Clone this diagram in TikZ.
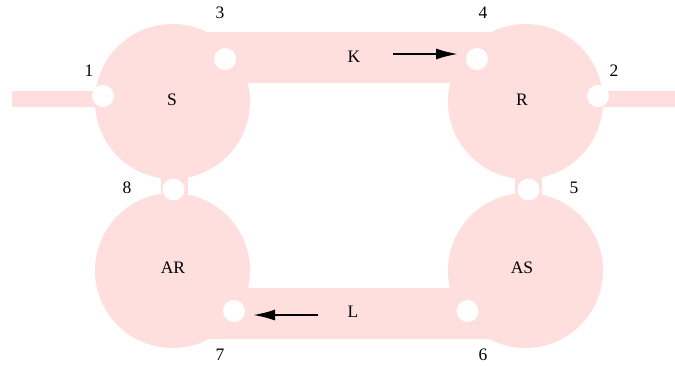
\documentclass[tikz,border=0pt]{standalone}
\usepackage{fontspec}
\setmainfont{Liberation Serif}
\usetikzlibrary{arrows.meta}
\definecolor{pinkfill}{HTML}{FFDEDE}
\begin{document}
\begin{tikzpicture}[x=1pt,y=-1pt,
  chamber/.style={circle,fill=pinkfill,minimum size=155pt,inner sep=0pt},
  hole/.style={circle,fill=white,minimum size=22pt,inner sep=0pt},
  lbl/.style={inner sep=0pt,font=\fontsize{17.5}{20}\selectfont},
  flow/.style={-{Latex[length=22pt,width=11pt]},line width=2pt,black}]
\useasboundingbox (0,0) rectangle (675,365);
% bars
\fill[pinkfill] (200,32) rectangle (500,83);
\fill[pinkfill] (200,288) rectangle (500,339);
\fill[pinkfill] (12,91) rectangle (120,107);
\fill[pinkfill] (580,91) rectangle (675,107);
\fill[pinkfill] (161,150) rectangle (188,220);
\fill[pinkfill] (515,150) rectangle (542,220);
% chambers
\node[chamber] (S) at (172.5,101.5) {};
\node[chamber] (R) at (525.5,101.5) {};
\node[chamber] (AR) at (172.5,270.5) {};
\node[chamber] (AS) at (525.5,270.5) {};
% holes
\node[hole] (h1) at (103,96) {};
\node[hole] (h2) at (598,96) {};
\node[hole] (h3) at (225,59) {};
\node[hole] (h4) at (477,59) {};
\node[hole] (h5) at (528.5,189.5) {};
\node[hole] (h6) at (467.5,311) {};
\node[hole] (h7) at (234,311) {};
\node[hole] (h8) at (173.5,189.5) {};
% labels
\node[lbl] (tS) at (172,100) {S};
\node[lbl] (tR) at (522,100) {R};
\node[lbl] (tAR) at (173,268) {AR};
\node[lbl] (tAS) at (522,268) {AS};
\node[lbl] (tK) at (354,57) {K};
\node[lbl] (tL) at (353,312) {L};
\node[lbl] (n1) at (89,71) {1};
\node[lbl] (n2) at (614,71) {2};
\node[lbl] (n3) at (220,13) {3};
\node[lbl] (n4) at (483,13) {4};
\node[lbl] (n5) at (574,188) {5};
\node[lbl] (n6) at (483,355) {6};
\node[lbl] (n7) at (220,355) {7};
\node[lbl] (n8) at (127,188) {8};
% arrows
\coordinate (ka) at (393,54);
\coordinate (kb) at (458,54);
\coordinate (la) at (318,315);
\coordinate (lb) at (253,315);
\draw[flow] (ka) -- (kb);
\draw[flow] (la) -- (lb);
\end{tikzpicture}
\end{document}
